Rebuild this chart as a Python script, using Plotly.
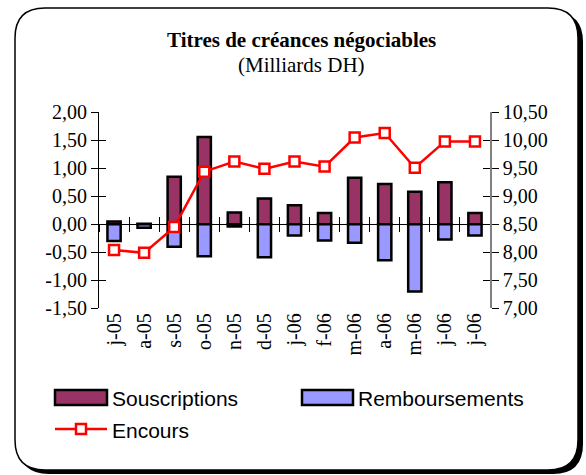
import numpy as np
import plotly.graph_objects as go

# ---- data ----
months = ["j-05", "a-05", "s-05", "o-05", "n-05", "d-05", "j-06",
          "f-06", "m-06", "a-06", "m-06", "j-06", "j-06"]
souscriptions = [0.05, 0.01, 0.85, 1.56, 0.21, 0.46, 0.34,
                 0.20, 0.83, 0.72, 0.58, 0.75, 0.20]
remboursements = [-0.30, -0.06, -0.40, -0.57, -0.04, -0.59, -0.20,
                  -0.29, -0.33, -0.64, -1.20, -0.27, -0.20]
encours = [8.04, 7.99, 8.45, 9.44, 9.62, 9.49, 9.62,
           9.53, 10.05, 10.13, 9.51, 9.98, 9.98]
left_tickvals = [-1.5, -1.0, -0.5, 0.0, 0.5, 1.0, 1.5, 2.0]
left_ticktext = ["-1,50", "-1,00", "-0,50", "0,00", "0,50", "1,00", "1,50", "2,00"]
right_tickvals = [7.0, 7.5, 8.0, 8.5, 9.0, 9.5, 10.0, 10.5]
right_ticktext = ["7,00", "7,50", "8,00", "8,50", "9,00", "9,50", "10,00", "10,50"]

W, H = 586, 475
def px(x):
    return x / W
def py(y):
    return 1 - y / H

# plot area in pixels
X0, X1 = 99, 490
Y_TOP, Y_BOT = 112.3, 308.3
xdom = [px(X0), px(X1)]
ydom = [py(Y_BOT), py(Y_TOP)]
lmin, lmax = -1.5, 2.0
zero_pos = ydom[0] + (0 - lmin) / (lmax - lmin) * (ydom[1] - ydom[0])

idx = np.arange(len(months))
xr = [-0.5, len(months) - 0.5]
bounds = list(np.arange(len(months) + 1) - 0.5)

SERIF = "Liberation Serif, Times New Roman, serif"
SANS = "Liberation Sans, Arial, sans-serif"
C_SOUS = "#993366"
C_REMB = "#9999FF"

fig = go.Figure()
fig.add_trace(go.Bar(x=idx, y=souscriptions, name="Souscriptions", width=0.44,
                     marker=dict(color=C_SOUS, line=dict(color="black", width=2.5)),
                     showlegend=False))
fig.add_trace(go.Bar(x=idx, y=remboursements, name="Remboursements", width=0.44,
                     marker=dict(color=C_REMB, line=dict(color="black", width=2.5)),
                     showlegend=False))
fig.add_trace(go.Scatter(x=idx, y=encours, name="Encours", yaxis="y2",
                         mode="lines+markers",
                         line=dict(color="#FF0000", width=2.5),
                         marker=dict(symbol="square", size=10, color="white",
                                     line=dict(color="#FF0000", width=2.5)),
                         showlegend=False, cliponaxis=False))
# helper (empty) traces so the overlay axes get drawn
for xa, ya in [("x2", "y"), ("x3", "y"), ("x", "y3"), ("x", "y4")]:
    fig.add_trace(go.Scatter(x=[], y=[], xaxis=xa, yaxis=ya, showlegend=False,
                             hoverinfo="skip"))

# ---- frame (rounded rectangle with shadow) ----
def rrect(x0, y0, x1, y1, r):
    pts = [
        f"M{px(x0 + r)},{py(y0)}", f"L{px(x1 - r)},{py(y0)}",
        f"Q{px(x1)},{py(y0)} {px(x1)},{py(y0 + r)}", f"L{px(x1)},{py(y1 - r)}",
        f"Q{px(x1)},{py(y1)} {px(x1 - r)},{py(y1)}", f"L{px(x0 + r)},{py(y1)}",
        f"Q{px(x0)},{py(y1)} {px(x0)},{py(y1 - r)}", f"L{px(x0)},{py(y0 + r)}",
        f"Q{px(x0)},{py(y0)} {px(x0 + r)},{py(y0)}", "Z"]
    return " ".join(pts)

shapes = [
    dict(type="path", xref="paper", yref="paper", layer="below",
         path=rrect(19, 12, 583, 474, 30), fillcolor="black", line=dict(width=0)),
    dict(type="path", xref="paper", yref="paper", layer="below",
         path=rrect(15, 8, 578, 470, 30), fillcolor="white",
         line=dict(color="black", width=1.5)),
    # legend keys
    dict(type="rect", xref="paper", yref="paper", x0=px(55), x1=px(107),
         y0=py(405), y1=py(390), fillcolor=C_SOUS, line=dict(color="black", width=2.5)),
    dict(type="rect", xref="paper", yref="paper", x0=px(302), x1=px(353),
         y0=py(405), y1=py(390), fillcolor=C_REMB, line=dict(color="black", width=2.5)),
    dict(type="line", xref="paper", yref="paper", x0=px(55), x1=px(107),
         y0=py(429), y1=py(429), line=dict(color="#FF0000", width=2.5)),
    dict(type="rect", xref="paper", yref="paper", x0=px(76), x1=px(86),
         y0=py(434), y1=py(424), fillcolor="white", line=dict(color="#FF0000", width=2.5)),
]

annotations = [
    dict(text="<b>Titres de créances négociables</b>", x=px(301), y=py(40),
         xref="paper", yref="paper", showarrow=False, xanchor="center", yanchor="middle",
         font=dict(family=SERIF, size=21, color="black")),
    dict(text="(Milliards DH)", x=px(301), y=py(65),
         xref="paper", yref="paper", showarrow=False, xanchor="center", yanchor="middle",
         font=dict(family=SERIF, size=21, color="black")),
    dict(text="Souscriptions", x=px(110), y=py(398), xref="paper", yref="paper",
         showarrow=False, xanchor="left", yanchor="middle",
         font=dict(family=SANS, size=21, color="black")),
    dict(text="Remboursements", x=px(356), y=py(398), xref="paper", yref="paper",
         showarrow=False, xanchor="left", yanchor="middle",
         font=dict(family=SANS, size=21, color="black")),
    dict(text="Encours", x=px(110), y=py(430), xref="paper", yref="paper",
         showarrow=False, xanchor="left", yanchor="middle",
         font=dict(family=SANS, size=21, color="black")),
]

tickfont = dict(family=SERIF, size=20, color="black")

fig.update_layout(
    width=W, height=H, autosize=False,
    margin=dict(l=0, r=0, t=0, b=0, pad=0, autoexpand=False),
    paper_bgcolor="white", plot_bgcolor="rgba(0,0,0,0)",
    barmode="relative", showlegend=False,
    shapes=shapes, annotations=annotations,
    xaxis=dict(domain=xdom, range=xr, tickmode="array", tickvals=idx, ticktext=months,
               tickangle=-90, showline=False, ticks="", showgrid=False, zeroline=False,
               tickfont=tickfont, anchor="y", automargin=False),
    xaxis2=dict(overlaying="x", anchor="free", position=zero_pos, range=xr,
                tickmode="array", tickvals=bounds, ticks="outside", ticklen=7,
                tickcolor="black", showline=True, linecolor="black", linewidth=1,
                showticklabels=False, showgrid=False, zeroline=False,
                layer="below traces", automargin=False),
    xaxis3=dict(overlaying="x", anchor="free", position=zero_pos, range=xr,
                tickmode="array", tickvals=bounds, ticks="inside", ticklen=7,
                tickcolor="black", showline=False,
                showticklabels=False, showgrid=False, zeroline=False,
                layer="below traces", automargin=False),
    yaxis=dict(domain=ydom, range=[lmin, lmax], tickmode="array",
               tickvals=left_tickvals, ticktext=left_ticktext,
               ticks="outside", ticklen=7, tickcolor="black",
               showline=True, linecolor="black", linewidth=1,
               showgrid=False, zeroline=False, tickfont=tickfont, anchor="x",
               automargin=False),
    yaxis3=dict(overlaying="y", side="left", anchor="x", range=[lmin, lmax],
                tickmode="array", tickvals=left_tickvals, ticks="inside", ticklen=7,
                tickcolor="black", showticklabels=False, showline=False,
                showgrid=False, zeroline=False, automargin=False),
    yaxis2=dict(overlaying="y", side="right", anchor="x", range=[7, 10.5],
                tickmode="array", tickvals=right_tickvals, ticktext=right_ticktext,
                ticks="outside", ticklen=7, tickcolor="black",
                showline=True, linecolor="#808080", linewidth=1.5,
                showgrid=False, zeroline=False, tickfont=tickfont, automargin=False),
    yaxis4=dict(overlaying="y", side="right", anchor="x", range=[7, 10.5],
                tickmode="array", tickvals=right_tickvals, ticks="inside", ticklen=7,
                tickcolor="black", showticklabels=False, showline=False,
                showgrid=False, zeroline=False, automargin=False),
)

fig.write_html("out.html", config={"displayModeBar": False},
               post_script="document.body.style.margin='0px';")
